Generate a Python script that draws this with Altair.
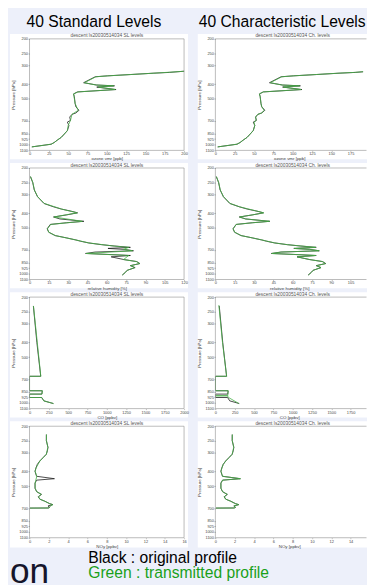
import altair as alt
import pandas as pd

BG = "#edf0fa"
BLACK_LINE = "#1c1c1c"
GREEN_LINE = "#45b045"
GREEN_TEXT = "#1aa01a"
FONT = "Liberation Sans"

W_LEFT, W_RIGHT, H = 158, 151, 114

COL_HEADERS = ["40 Standard Levels", "40 Characteristic Levels"]
PANEL_TITLES = ["descent ls20030514034 SL levels", "descent ls20030514034 Ch. levels"]
LEGEND_LINES = ["Black : original profile", "Green : transmitted profile"]
SLIDE_TEXT = "on"

P_TICKS = [200, 250, 300, 400, 500, 700, 850, 925, 1000, 1100]
X_TITLES = ["ozone vmr [ppb]", "relative humidity [%]", "CO [ppbv]", "NOy [ppbv]"]
X_MAX = [200, 120, 2000, 16]
X_TICKS = [
    [0, 25, 50, 75, 100, 125, 150, 175, 200],
    [0, 15, 30, 45, 60, 75, 90, 105, 120],
    [0, 250, 500, 750, 1000, 1250, 1500, 1750, 2000],
    [0, 2, 4, 6, 8, 10, 12, 14, 16],
]

# ---- ozone ----
O3_P = [300, 328, 334, 338, 345, 352, 357, 391, 405, 410, 418, 434, 450, 464, 484, 537,
        565, 596, 621, 634, 661, 696, 714, 752, 813, 857, 902, 940, 975, 1001, 1043]
O3_BLACK = [260, 200, 181, 160, 131, 101, 85, 70, 87, 110, 87, 112, 62, 57, 58, 59,
            60, 64, 60, 55, 52, 53, 49, 51, 49, 45, 41, 36, 32, 28, 3]
O3_SL_P = [300, 328, 338, 352, 357, 391, 405, 410, 418, 434, 450, 464, 537, 596, 634,
           696, 752, 813, 857, 902, 940, 975, 1001, 1043]
O3_SL = [262, 201, 161, 102, 86, 71, 86, 109, 89, 111, 63, 57, 59, 63, 55,
         53, 50, 49, 45, 41, 36, 32, 28, 3]
O3_CH_P = [300, 328, 334, 338, 352, 357, 391, 405, 410, 418, 434, 450, 464, 484, 537,
           565, 596, 621, 634, 661, 696, 714, 752, 813, 857, 902, 940, 975, 1001, 1043]
O3_CH = [258, 199, 180, 159, 102, 86, 71, 86, 109, 88, 111, 62, 57, 58, 59,
         60, 63, 60, 55, 52, 53, 50, 51, 49, 45, 41, 36, 32, 28, 3]

# ---- relative humidity ----
RH_P = [228, 250, 280, 310, 344, 362, 375, 387, 397, 410, 423, 436, 452, 462, 474, 507,
        534, 562, 582, 601, 613, 629, 646, 659, 673, 684, 694, 709, 723, 739, 750, 762,
        778, 811, 836, 862, 890, 917, 956, 986, 1028]
RH_BLACK = [0.7, 2.5, 3.7, 6.2, 11.2, 18.6, 24.8, 32.3, 37.3, 28.6, 18.6, 23.6, 42.2, 28.6,
            16.1, 13.7, 14.9, 19.9, 28.6, 36.0, 39.8, 46.0, 55.9, 65.8, 78.3, 60.9, 73.3,
            80.7, 50.9, 43.5, 60.9, 78.3, 63.4, 73.3, 83.2, 85.7, 78.3, 82.0, 75.8, 74.5, 72.0]
RH_SL_P = [228, 250, 280, 310, 344, 375, 397, 423, 452, 474, 507, 534, 562, 601, 629, 659,
           673, 694, 709, 739, 762, 811, 836, 862, 890, 917, 956, 1028]
RH_SL = [0.8, 2.6, 3.8, 6.3, 11.5, 25, 37, 19, 41, 16.5, 13.9, 15, 20, 36, 46, 65,
         77, 73, 80, 44, 77, 73, 83, 85.5, 78.5, 81.5, 76, 72]
RH_CH_P = [228, 250, 280, 310, 344, 362, 387, 397, 410, 423, 436, 452, 462, 474, 507, 534,
           562, 582, 601, 629, 646, 673, 684, 694, 709, 723, 739, 750, 762, 778, 811, 836,
           862, 890, 917, 956, 986, 1028]
RH_CH = [0.8, 2.6, 3.8, 6.3, 11.4, 18.8, 32.5, 37.5, 28.4, 18.8, 23.4, 42.0, 28.8, 16.2,
         13.8, 15.0, 20.0, 28.5, 36.2, 46.2, 56.0, 78.0, 61.2, 73.0, 80.5, 51.2, 43.8, 61.0,
         78.0, 63.6, 73.0, 83.0, 85.5, 78.5, 82.0, 76.0, 74.6, 72.2]

# ---- CO ----
CO_P = [229, 400, 671, 671, 837, 837, 881, 881, 928, 928, 977, 1018]
CO_BLACK = [50, 95, 145, 0, 0, 165, 160, 0, 0, 158, 186, 309]
CO_SL_P = [229, 671, 671, 837, 837, 881, 881, 928, 928, 977, 1018]
CO_SL = [51, 146, 0, 0, 166, 161, 0, 0, 157, 185, 310]
CO_CH_P = [226, 400, 671, 671, 837, 837, 904, 904, 904, 927, 1018]
CO_CH = [45, 92, 146, 0, 0, 166, 160, 0, 156, 169, 304]

# ---- NOy ----
NOY_P = [227, 249, 276, 291, 307, 323, 340, 358, 378, 398, 419, 430, 446, 456, 477, 516,
         544, 567, 588, 610, 629, 653, 663, 677, 688, 698, 699]
NOY_BLACK = [1.74, 1.74, 1.91, 1.85, 1.74, 1.41, 1.07, 0.81, 0.67, 0.57, 0.67, 0.74, 2.58,
             0.74, 0.57, 0.57, 0.74, 1.24, 0.91, 1.07, 1.58, 2.08, 2.42, 1.91, 2.08, 2.0, 0.05]
NOY_SL_P = [227, 249, 276, 307, 340, 378, 398, 430, 477, 516, 544, 567, 588, 610, 629, 653,
            663, 688, 698, 699]
NOY_SL = [1.76, 1.75, 1.9, 1.74, 1.08, 0.68, 0.58, 0.75, 0.58, 0.58, 0.75, 1.22, 0.92, 1.08,
          1.57, 2.07, 2.4, 2.06, 2.0, 0.05]
NOY_CH_P = [227, 249, 276, 307, 323, 340, 358, 378, 398, 430, 446, 456, 477, 516, 544, 567,
            588, 610, 629, 653, 663, 677, 688, 698, 699]
NOY_CH = [1.76, 1.75, 1.9, 1.74, 1.42, 1.08, 0.82, 0.68, 0.58, 0.75, 2.6, 0.76, 0.58, 0.58,
          0.75, 1.22, 0.92, 1.08, 1.57, 2.07, 2.4, 1.92, 2.06, 2.0, 0.05]

ROWS = [
    ((O3_P, O3_BLACK), (O3_SL_P, O3_SL), (O3_CH_P, O3_CH)),
    ((RH_P, RH_BLACK), (RH_SL_P, RH_SL), (RH_CH_P, RH_CH)),
    ((CO_P, CO_BLACK), (CO_SL_P, CO_SL), (CO_CH_P, CO_CH)),
    ((NOY_P, NOY_BLACK), (NOY_SL_P, NOY_SL), (NOY_CH_P, NOY_CH)),
]

ONE = pd.DataFrame({"k": [0]})
FRAME = "#8c8c8c"

AXIS_STYLE = dict(
    zindex=1, grid=False, domain=False, labelFont=FONT, titleFont=FONT,
    labelFontSize=4, titleFontSize=4.5, labelColor="#444", titleColor="#444",
    tickColor="#777", tickWidth=0.5, labelPadding=0.5,
    titleFontWeight="normal", labelOverlap=False, labelFlush=False,
)


def rect_layer(x1, x2, y1, y2, fill):
    return alt.Chart(ONE).mark_rect(fill=fill, strokeWidth=0).encode(
        x=alt.value(x1), x2=alt.value(x2), y=alt.value(y1), y2=alt.value(y2))


def rule_layer(x1, x2, y1, y2):
    return alt.Chart(ONE).mark_rule(color=FRAME, strokeWidth=0.6).encode(
        x=alt.value(x1), x2=alt.value(x2), y=alt.value(y1), y2=alt.value(y2))


def text_layer(txt, x, y, size, color, align="left"):
    return alt.Chart(ONE).mark_text(
        text=txt, font=FONT, fontSize=size, align=align, baseline="alphabetic", color=color
    ).encode(x=alt.value(x), y=alt.value(y))


def line_layer(P, V, color, width, xscale, yscale, xaxis, yaxis):
    df = pd.DataFrame({"p": P, "v": V, "i": list(range(len(P)))})
    return alt.Chart(df).mark_line(color=color, strokeWidth=width, clip=True).encode(
        x=alt.X("v:Q", scale=xscale, axis=xaxis),
        y=alt.Y("p:Q", scale=yscale, axis=yaxis),
        order=alt.Order("i:Q"),
    )


panels = []
for r in range(4):
    black, green_sl, green_ch = ROWS[r]
    for c in range(2):
        w = W_LEFT if c == 0 else W_RIGHT
        dom_max = X_MAX[r] if c == 0 else X_MAX[r] * W_RIGHT / W_LEFT
        ticks = [t for t in X_TICKS[r] if t <= dom_max]
        xscale = alt.Scale(domain=[0, dom_max], nice=False, zero=False)
        yscale = alt.Scale(type="log", domain=[200, 1100], reverse=True, nice=False)
        xaxis = alt.Axis(values=ticks, format="d", title=X_TITLES[r], orient="bottom",
                         titlePadding=0.3, tickSize=1, **AXIS_STYLE)
        yaxis = alt.Axis(values=P_TICKS, format="d", title="Pressure [hPa]", orient="left",
                         titlePadding=3, tickSize=1.5, **AXIS_STYLE)
        left_ext = -20 if c == 0 else -18
        bottom_ext = H + 9 if r < 3 else H + 10
        layers = [rect_layer(left_ext, w + 4, -5, bottom_ext, "white")]
        if r == 0:
            layers.append(rect_layer(left_ext, w + 4, -25, -5, BG))
            layers.append(text_layer(COL_HEADERS[c], -3 if c == 0 else -17, -12, 16, "black"))
        green = green_sl if c == 0 else green_ch
        layers.append(line_layer(black[0], black[1], BLACK_LINE, 0.8, xscale, yscale, xaxis, yaxis))
        layers.append(line_layer(green[0], green[1], GREEN_LINE, 0.8, xscale, yscale, xaxis, yaxis))
        right_end = w if c == 0 else w + 3.5
        layers.append(rule_layer(0, right_end, 0, 0))
        layers.append(rule_layer(0, right_end, H, H))
        layers.append(rule_layer(0, 0, 0, H))
        if c == 0:
            layers.append(rule_layer(w, w, 0, H))
        layers.append(text_layer(PANEL_TITLES[c], 79, -1.5, 5, "#555", align="center"))
        if r == 3 and c == 0:
            layers.append(text_layer(SLIDE_TEXT, -20, 160, 36, "#15152a"))
        if r == 3 and c == 1:
            layers.append(text_layer(LEGEND_LINES[0], -130, 139.5, 16, "black"))
            layers.append(text_layer(LEGEND_LINES[1], -130, 155, 16, GREEN_TEXT))
        panel = alt.layer(*layers).properties(width=w, height=H)
        panels.append(panel)

chart = alt.concat(*panels, columns=2).properties(
    spacing={"row": 18, "column": 32},
    bounds="flush",
    padding={"left": 2, "top": 0, "right": 0, "bottom": 0},
    background=BG,
).configure_view(strokeWidth=0)

chart.save("out.html", embed_options={"renderer": "svg", "actions": False})
